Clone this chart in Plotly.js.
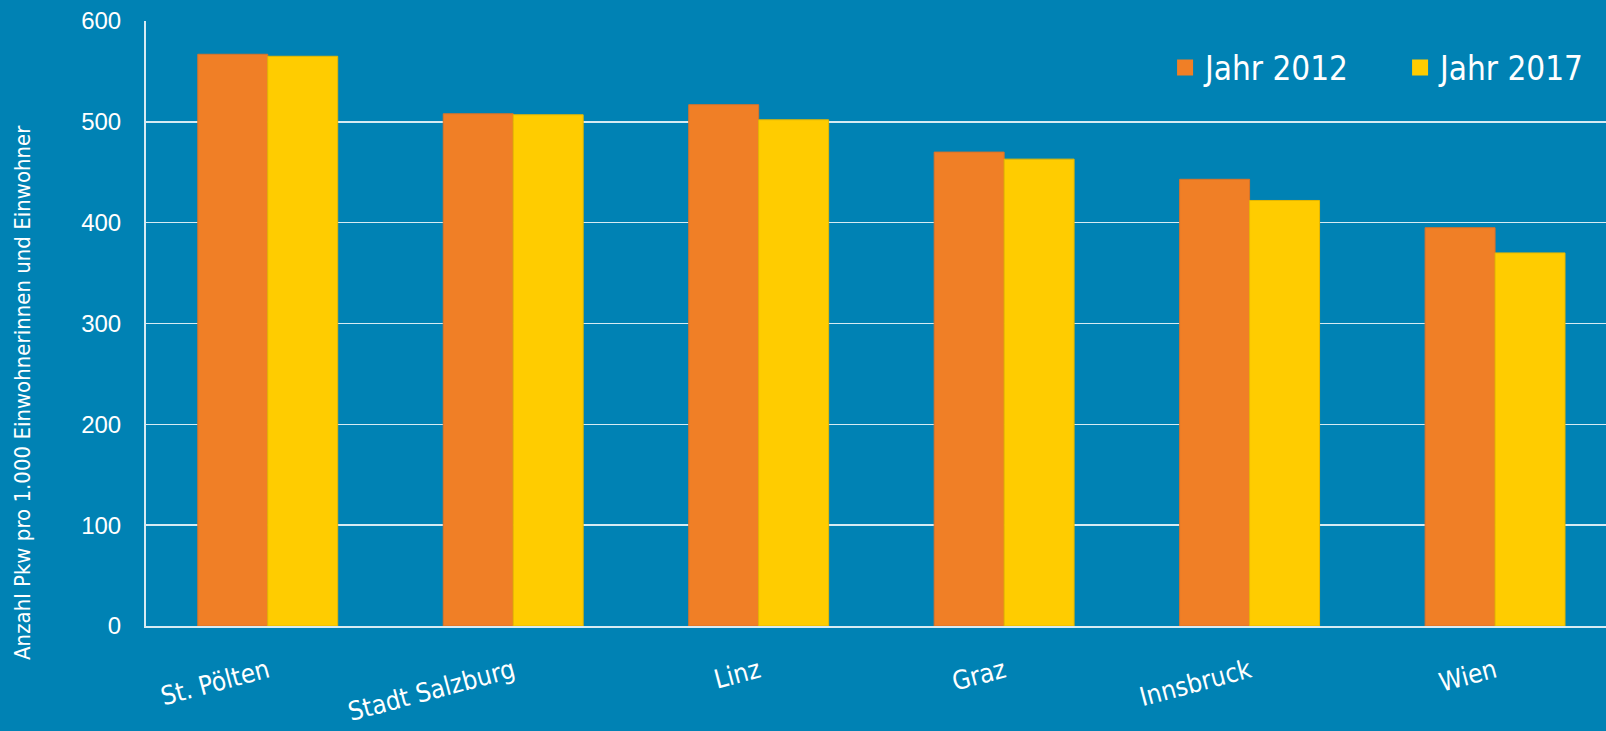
<!DOCTYPE html>
<html>
<head>
<meta charset="utf-8">
<script src="https://cdn.plot.ly/plotly-3.0.1.min.js"></script>
<style>
html,body{margin:0;padding:0;background:#0082B4;}
#chart{width:1606px;height:731px;}
</style>
</head>
<body>
<div id="chart"></div>
<script>
const categories = ["St. Pölten", "Stadt Salzburg", "Linz", "Graz", "Innsbruck", "Wien"];
const values2012 = [567, 508, 517, 470, 443, 395];
const values2017 = [565, 507, 502, 463, 422, 370];
const seriesNames = ["Jahr 2012", "Jahr 2017"];
const seriesColors = ["#F07F26", "#FFCC00"];
const yTicks = [0, 100, 200, 300, 400, 500, 600];
const yTitle = "Anzahl Pkw pro 1.000 Einwohnerinnen und Einwohner";

const narrow = "'Liberation Sans Narrow', 'DejaVu Sans Condensed', 'Liberation Sans', sans-serif";
const regular = "'Liberation Sans', Arial, sans-serif";

const traces = [
  {type: "bar", name: seriesNames[0], x: categories, y: values2012, showlegend: false,
   marker: {color: seriesColors[0], line: {color: "#D9732A", width: 1}}},
  {type: "bar", name: seriesNames[1], x: categories, y: values2017, showlegend: false,
   marker: {color: seriesColors[1], line: {color: "#E6B800", width: 1}}},
  {type: "scatter", mode: "markers", name: seriesNames[0], x: [null], y: [null],
   marker: {symbol: "square", size: 20, color: seriesColors[0]}},
  {type: "scatter", mode: "markers", name: seriesNames[1], x: [null], y: [null],
   marker: {symbol: "square", size: 20, color: seriesColors[1]}}
];

const layout = {
  width: 1606, height: 731,
  paper_bgcolor: "#0082B4", plot_bgcolor: "#0082B4",
  margin: {l: 146, r: 0, t: 21, b: 105, autoexpand: false},
  barmode: "group", bargap: 0.43, bargroupgap: 0,
  showlegend: true,
  legend: {orientation: "h", x: 0.698, xanchor: "left", y: 0.923, yanchor: "middle",
           font: {family: narrow, size: 33, color: "#ffffff"}, bgcolor: "rgba(0,0,0,0)",
           entrywidth: 190, traceorder: "normal", itemsizing: "trace"},
  xaxis: {type: "category", range: [-0.496, 5.452], tickangle: -15,
          tickfont: {family: narrow, size: 26, color: "#ffffff"},
          showgrid: false, showline: true, linecolor: "#d6ebf3", linewidth: 2,
          ticks: "", ticklabelstandoff: 18, fixedrange: true, automargin: false},
  yaxis: {range: [0, 600], tickvals: yTicks, ticktext: yTicks.map(String),
          tickfont: {family: regular, size: 24, color: "#ffffff"},
          showgrid: true, gridcolor: "#d6ebf3", gridwidth: 1.5,
          showline: true, linecolor: "#d6ebf3", linewidth: 2,
          zeroline: false, ticks: "", ticklabelstandoff: 18, fixedrange: true, automargin: false},
  annotations: [{
    text: yTitle, textangle: -90, xref: "paper", yref: "paper",
    x: -0.0846, y: 0.386, xanchor: "center", yanchor: "middle", showarrow: false,
    font: {family: narrow, size: 22, color: "#ffffff"}
  }]
};

Plotly.newPlot("chart", traces, layout, {displayModeBar: false, staticPlot: true});
</script>
</body>
</html>
